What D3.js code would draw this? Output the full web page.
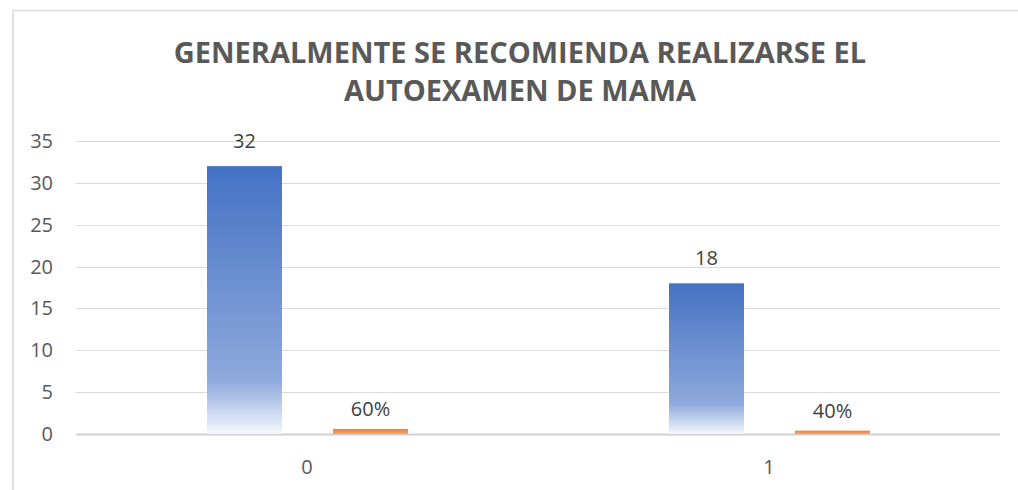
<!DOCTYPE html>
<html>
<head>
<meta charset="utf-8">
<title>Autoexamen de mama</title>
<script src="https://d3js.org/d3.v7.min.js"></script>
<style>
    body { margin: 0; background: #fff; font-family: "Open Sans", sans-serif; }
    svg { display: block; }
</style>
</head>
<body>
<svg width="1018" height="490"></svg>
<script>
    // data
    const categories = ["0", "1"];
    const countValues = [32, 18];
    const shareValues = [0.6, 0.4];
    const shareLabels = ["60%", "40%"];
    const yTicks = [0, 5, 10, 15, 20, 25, 30, 35];
    const titleLines = ["GENERALMENTE SE RECOMIENDA REALIZARSE EL", "AUTOEXAMEN DE MAMA"];

    const svg = d3.select("svg");
    const margin = {left: 76, right: 18, top: 141, bottom: 56};
    const W = 1018, H = 490;

    // gradients
    const defs = svg.append("defs");
    const gBlue = defs.append("linearGradient").attr("id", "gBlue")
        .attr("x1", 0).attr("y1", 0).attr("x2", 0).attr("y2", 1);
    gBlue.append("stop").attr("offset", "0%").attr("stop-color", "#4472c4");
    gBlue.append("stop").attr("offset", "80%").attr("stop-color", "#8ea9db");
    gBlue.append("stop").attr("offset", "100%").attr("stop-color", "#f5f8fd");
    const gOrange = defs.append("linearGradient").attr("id", "gOrange")
        .attr("x1", 0).attr("y1", 0).attr("x2", 0).attr("y2", 1);
    gOrange.append("stop").attr("offset", "0%").attr("stop-color", "#ed7d31");
    gOrange.append("stop").attr("offset", "100%").attr("stop-color", "#f4a672");

    // chart border
    svg.append("rect")
        .attr("x", 13).attr("y", 10.5)
        .attr("width", W + 10).attr("height", H + 10)
        .attr("fill", "none").attr("stroke", "#d9d9d9").attr("stroke-width", 1.5);

    // title
    svg.append("text")
        .attr("text-anchor", "middle")
        .attr("font-weight", "bold")
        .attr("font-size", 29)
        .attr("fill", "#595959")
        .selectAll("tspan")
        .data(titleLines)
        .enter()
        .append("tspan")
        .attr("x", 520)
        .attr("y", (d, i) => 63 + i * 38)
        .text(d => d);

    const x0 = d3.scaleBand()
        .domain(categories)
        .range([margin.left, W - margin.right]);

    const y = d3.scaleLinear()
        .domain([0, 35])
        .range([H - margin.bottom, margin.top]);

    // gridlines
    svg.append("g")
        .selectAll("line")
        .data(yTicks)
        .enter()
        .append("line")
        .attr("x1", margin.left).attr("x2", W - margin.right)
        .attr("y1", d => Math.round(y(d)) + 0.5).attr("y2", d => Math.round(y(d)) + 0.5)
        .attr("stroke", d => d === 0 ? "#d0d0d0" : "#d9d9d9")
        .attr("stroke-width", d => d === 0 ? 2 : 1.2);

    // y axis labels
    svg.append("g")
        .selectAll("text")
        .data(yTicks)
        .enter()
        .append("text")
        .attr("x", 53)
        .attr("y", d => y(d) + 7)
        .attr("text-anchor", "end")
        .attr("font-size", 20)
        .attr("fill", "#595959")
        .text(d => d);

    // x axis labels
    svg.append("g")
        .selectAll("text")
        .data(categories)
        .enter()
        .append("text")
        .attr("x", d => x0(d) + x0.bandwidth() / 2)
        .attr("y", 474)
        .attr("text-anchor", "middle")
        .attr("font-size", 20)
        .attr("fill", "#595959")
        .text(d => d);

    const barW = 75;
    const offBlue = -100, offOrange = 26;

    // blue bars
    svg.append("g")
        .selectAll("rect")
        .data(countValues)
        .enter()
        .append("rect")
        .attr("x", (d, i) => x0(categories[i]) + x0.bandwidth() / 2 + offBlue)
        .attr("y", d => y(d))
        .attr("width", barW)
        .attr("height", d => y(0) - y(d))
        .attr("fill", "url(#gBlue)");

    svg.append("g")
        .selectAll("text")
        .data(countValues)
        .enter()
        .append("text")
        .attr("x", (d, i) => x0(categories[i]) + x0.bandwidth() / 2 + offBlue + barW / 2)
        .attr("y", d => y(d) - 18)
        .attr("text-anchor", "middle")
        .attr("font-size", 20)
        .attr("fill", "#404040")
        .text(d => d);

    // orange bars
    svg.append("g")
        .selectAll("rect")
        .data(shareValues)
        .enter()
        .append("rect")
        .attr("x", (d, i) => x0(categories[i]) + x0.bandwidth() / 2 + offOrange)
        .attr("y", d => y(d))
        .attr("width", barW)
        .attr("height", d => y(0) - y(d))
        .attr("fill", "url(#gOrange)");

    svg.append("g")
        .selectAll("text")
        .data(shareValues)
        .enter()
        .append("text")
        .attr("x", (d, i) => x0(categories[i]) + x0.bandwidth() / 2 + offOrange + barW / 2)
        .attr("y", d => y(d) - 13)
        .attr("text-anchor", "middle")
        .attr("font-size", 20)
        .attr("fill", "#404040")
        .text((d, i) => shareLabels[i]);
</script>
</body>
</html>
